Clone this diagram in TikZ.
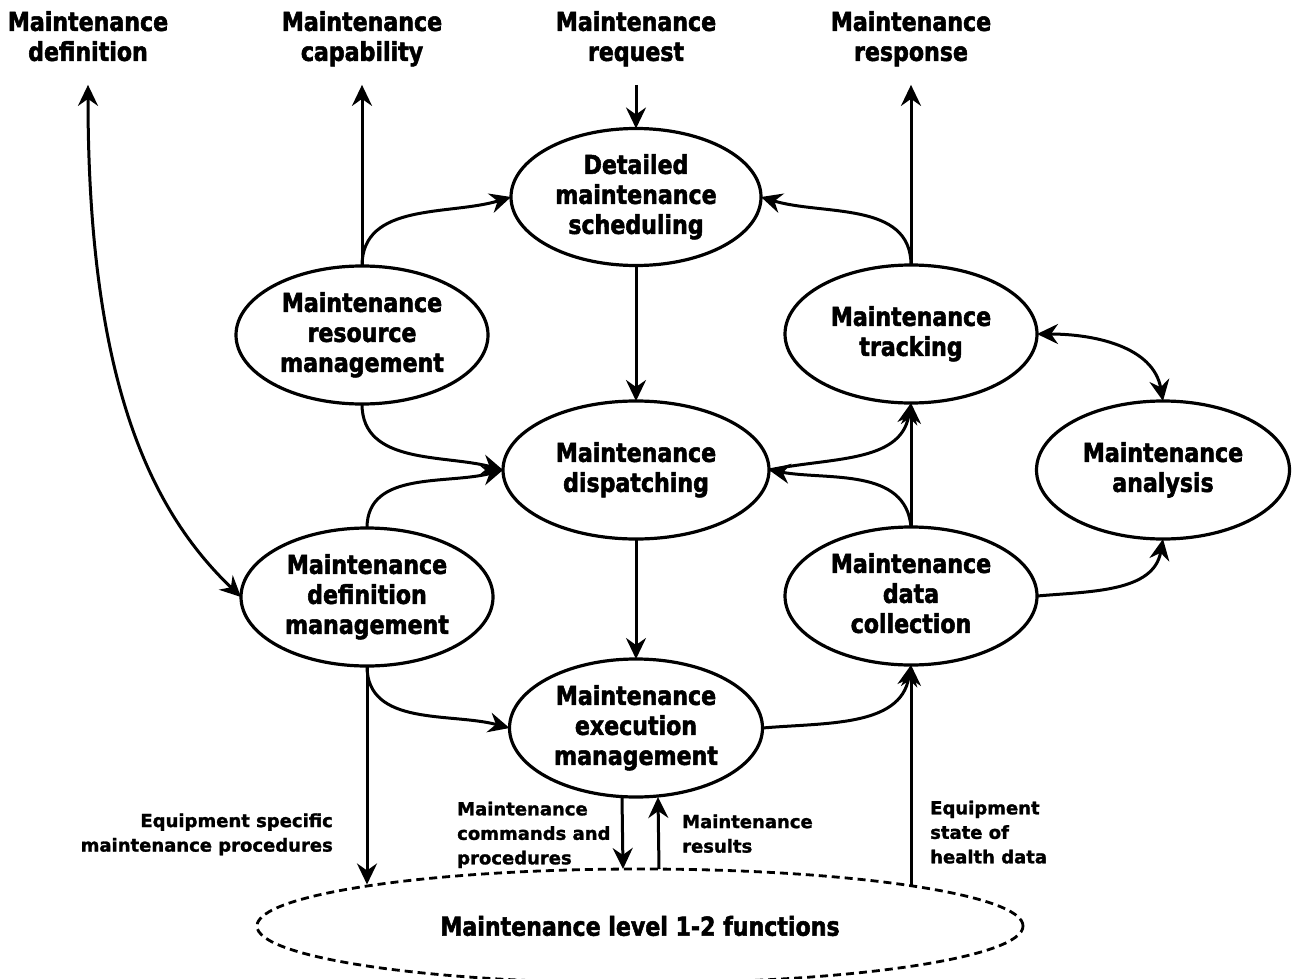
\documentclass[tikz,border=0pt]{standalone}
\usepackage{fontspec}
\usetikzlibrary{arrows.meta,shapes.geometric}
\newfontfamily\bigfam[FakeStretch=0.85,FakeBold=2]{DejaVu Sans}
\newfontfamily\smallfam[FakeBold=1.5]{DejaVu Sans}
\newcommand\bigfnt{\bigfam\bfseries\fontsize{26}{30}\selectfont}
\newcommand\smallfnt{\smallfam\bfseries\fontsize{18}{24.5}\selectfont}
\newcommand\mybigtop{\rule{0pt}{20pt}}
\newcommand\mybigbot{\rule[-6pt]{0pt}{6pt}}
\newcommand\mysmalltop{\rule{0pt}{14pt}}
\newcommand\mysmallbot{\rule[-4.5pt]{0pt}{4.5pt}}
\begin{document}
\begin{tikzpicture}[x=1pt,y=1pt,
  proc/.style={ellipse, draw, line width=3.2pt, minimum width=252pt, minimum height=138pt,
    inner sep=0pt, outer sep=0pt, align=center, font=\bigfnt,
    execute at begin node=\mybigtop, execute at end node=\mybigbot},
  toplbl/.style={align=center, font=\bigfnt, inner sep=0pt, outer sep=0pt, outer ysep=18pt,
    execute at begin node=\mybigtop, execute at end node=\mybigbot},
  note/.style={font=\smallfnt, inner sep=0pt,
    execute at begin node=\mysmalltop, execute at end node=\mysmallbot},
  tip/.tip={Stealth[length=21pt,width=20pt,inset=7pt]},
  arr/.style={line width=3pt, -tip},
  darr/.style={line width=3pt, tip-tip}
]
\useasboundingbox[fill=white] (0,0) rectangle (1295,-979);

% top labels
\node[toplbl] (tdef)  at (88,-39)  {Maintenance\\definition};
\node[toplbl] (tcap)  at (362,-39) {Maintenance\\capability};
\node[toplbl] (treq)  at (636,-39) {Maintenance\\request};
\node[toplbl] (tresp) at (911,-39) {Maintenance\\response};

% process ellipses
\node[proc, minimum width=250pt, minimum height=137pt] (sched) at (636,-197) {Detailed\\maintenance\\scheduling};
\node[proc] (res)   at (362,-335) {Maintenance\\resource\\management};
\node[proc] (track) at (911,-334) {Maintenance\\tracking};
\node[proc, minimum width=266pt] (disp) at (636,-470) {Maintenance\\dispatching};
\node[proc, minimum width=253pt] (anal) at (1163,-470) {Maintenance\\analysis};
\node[proc] (defm)  at (367,-597) {Maintenance\\definition\\management};
\node[proc] (datac) at (911,-596) {Maintenance\\data\\collection};
\node[proc, minimum width=253pt] (exec) at (636,-728) {Maintenance\\execution\\management};

\node[ellipse, draw, line width=2.8pt, dash pattern=on 8pt off 5pt, minimum width=766pt,
  minimum height=114pt, inner sep=0pt, outer sep=0pt, font=\bigfnt] (lvl) at (640,-926)
  {Maintenance level 1-2 functions};

% notes
\node[note, align=right, anchor=east] (nequip) at (333,-834.75) {Equipment specific\\maintenance procedures};
\node[note, align=left, anchor=west] (ncmd) at (457,-835.25) {Maintenance\\commands and\\procedures};
\node[note, align=left, anchor=west] (nres) at (682,-835.75) {Maintenance\\results};
\node[note, align=left, anchor=west] (nhealth) at (930,-834.25) {Equipment\\state of\\health data};

% connectors
\draw[darr] (tdef.south) .. controls (88,-380) and (150,-510) .. (defm.west);
\draw[arr] (res.north) -- (res.north |- tcap.south);
\draw[arr] (treq.south) -- (sched.north);
\draw[arr] (track.north) -- (track.north |- tresp.south);
\draw[arr] (res.north) to[out=90,in=197] (sched.west);
\draw[arr] (track.north) to[out=90,in=-17] (sched.east);
\draw[arr] (sched.south) -- (disp.north);
\draw[arr] (res.south) to[out=-90,in=165] (disp.west);
\draw[arr] (defm.north) to[out=90,in=195] (disp.west);
\draw[arr] (datac.north) to[out=95,in=-10] (disp.east);
\draw[arr] (disp.east) to[out=12,in=-100] (track.south);
\draw[arr] (datac.north) -- (track.south);
\draw[darr] (track.east) to[out=0,in=100] (anal.north);
\draw[arr] (datac.east) to[out=5,in=-100] (anal.south);
\draw[arr] (disp.south) -- (exec.north);
\draw[arr] (defm.south) to[out=-90,in=165] (exec.west);
\draw[arr] (exec.east) to[out=5,in=-100] (datac.south);
\draw[arr] (defm.south) -- (defm.south |- lvl.171.5);
\draw[arr] ([xshift=-14pt]exec.south) -- ([xshift=-17pt]lvl.north);
\draw[arr] ([xshift=19pt]lvl.north) -- ([xshift=22pt]exec.south);
\draw[arr] (datac.south |- lvl.8.5) -- (datac.south);
\end{tikzpicture}
\end{document}
